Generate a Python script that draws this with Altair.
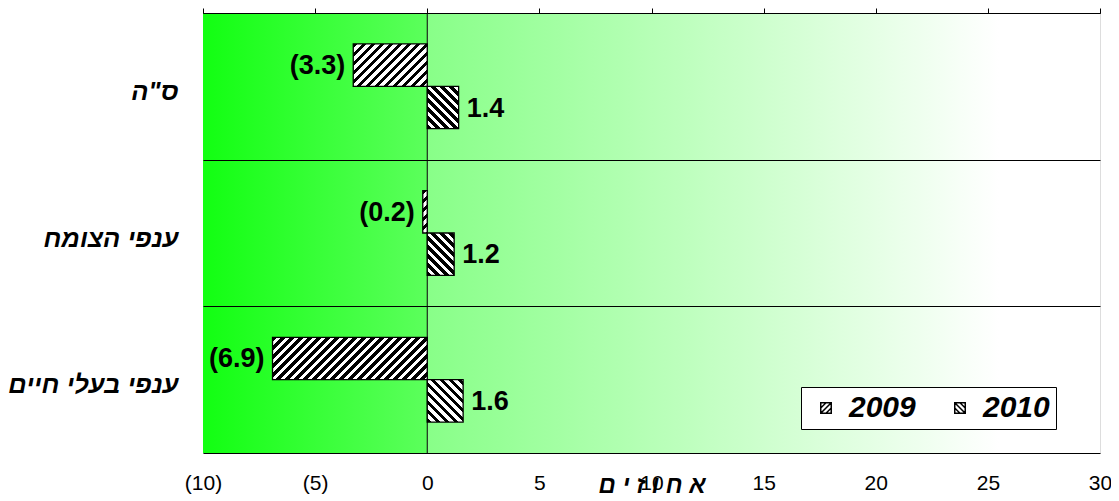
import altair as alt
import pandas as pd

# ---- data ----
categories = ['ס"ה', 'ענפי הצומח', 'ענפי בעלי חיים']
years = ["2009", "2010"]
values_2009 = [-3.3, -0.2, -6.9]
values_2010 = [1.4, 1.2, 1.6]
x_ticks = [-10, -5, 0, 5, 10, 15, 20, 25, 30]
bg_from = [-10, 0]
bg_to = [0, 30]
axis_title = "א ח ו ז י ם"

# ---- layout ----
W, H = 897, 440
XMIN, XMAX = -10, 30
PAD_OUTER = 0.73
FONT = "Liberation Sans, Arial"

rows = []
for i, c in enumerate(categories):
    rows.append({"cat": c, "year": "2009", "v": values_2009[i], "id": f"{i}-2009"})
    rows.append({"cat": c, "year": "2010", "v": values_2010[i], "id": f"{i}-2010"})
df = pd.DataFrame(rows)
df["label"] = [f"({abs(v):.1f})" if v < 0 else f"{v:.1f}" for v in df["v"]]

bg = pd.DataFrame({"start": bg_from, "end": bg_to, "part": ["neg", "pos"]})
zero = pd.DataFrame({"x": [0]})

ppu = W / (XMAX - XMIN)
bar_h = (H / len(categories)) / (len(years) + 2 * PAD_OUTER)

xscale = alt.Scale(domain=[XMIN, XMAX], nice=False)
yscale = alt.Scale(domain=categories, paddingInner=0, paddingOuter=0)
yoff_scale = alt.Scale(domain=years, paddingInner=0, paddingOuter=PAD_OUTER)


def stripes(w, h, forward, period=9.0, black=0.5):
    n = (w + h) / period
    stops = []
    j = 0
    while j / n < 1:
        a = j / n
        b = min((j + black) / n, 1)
        c = min((j + 1) / n, 1)
        stops += [
            alt.GradientStop(offset=a, color="black"),
            alt.GradientStop(offset=b, color="black"),
            alt.GradientStop(offset=b, color="white"),
            alt.GradientStop(offset=c, color="white"),
        ]
        j += 1
    s = (w + h) / (w * w + h * h)
    if forward:  # "/" stripes
        return alt.LinearGradient(gradient="linear", stops=stops,
                                  x1=0, y1=0, x2=w * s, y2=h * s)
    return alt.LinearGradient(gradient="linear", stops=stops,
                              x1=0, y1=1, x2=w * s, y2=1 - h * s)


grad_neg = alt.LinearGradient(gradient="linear", x1=0, x2=1, y1=0, y2=0, stops=[
    alt.GradientStop(offset=0, color="#12ff12"),
    alt.GradientStop(offset=1, color="#5cff5c")])
grad_pos = alt.LinearGradient(gradient="linear", x1=0, x2=1, y1=0, y2=0, stops=[
    alt.GradientStop(offset=0, color="#88ff88"),
    alt.GradientStop(offset=0.85, color="#ffffff"),
    alt.GradientStop(offset=1, color="#ffffff")])

top_axis = alt.Axis(orient="top", values=x_ticks, labels=False, ticks=True, tickSize=5,
                    tickColor="black", domain=True, domainColor="black", grid=False,
                    title=None, zindex=1)
bottom_axis = alt.Axis(orient="bottom", values=x_ticks, ticks=False, domain=False, grid=False,
                       labelExpr="datum.value < 0 ? '(' + (-datum.value) + ')' : datum.label",
                       labelFont=FONT, labelFontSize=21, labelColor="black", labelFlush=False,
                       labelBaseline="middle", labelPadding=30.5,
                       title=axis_title, titleFont=FONT, titleFontSize=24,
                       titleFontWeight="bold", titleFontStyle="italic", titleColor="black",
                       titleBaseline="alphabetic", titleY=39, zindex=1)
y_axis = alt.Axis(orient="left", ticks=False, domain=False, grid=True, tickBand="extent",
                  gridColor="black", gridWidth=1, gridOpacity=1,
                  labelFont=FONT, labelFontSize=25.5, labelFontWeight="bold",
                  labelFontStyle="italic", labelColor="black", labelPadding=25,
                  labelLimit=400, labelOffset=5, title=None, zindex=1)

layers = []
for part, g in (("neg", grad_neg), ("pos", grad_pos)):
    layers.append(
        alt.Chart(bg).transform_filter(alt.datum.part == part)
        .mark_rect(fill=g)
        .encode(x=alt.X("start:Q", scale=xscale, axis=top_axis if part == "neg" else None),
                x2="end:Q")
    )

layers.append(
    alt.Chart(zero).mark_rule(color="black", strokeWidth=1)
    .encode(x=alt.X("x:Q", scale=xscale, axis=bottom_axis))
)

for _, r in df.iterrows():
    w = abs(r["v"]) * ppu
    g = stripes(w, bar_h, forward=(r["year"] == "2009"))
    layers.append(
        alt.Chart(df).transform_filter(alt.datum.id == r["id"])
        .mark_bar(fill=g, stroke="black", strokeWidth=1.3)
        .encode(
            x=alt.X("v:Q", scale=xscale, axis=None),
            y=alt.Y("cat:N", sort=categories, scale=yscale, axis=y_axis),
            yOffset=alt.YOffset("year:N", sort=years, scale=yoff_scale),
        )
    )

text_common = dict(font=FONT, fontSize=27, fontWeight="bold", color="black", baseline="middle", dy=1)
layers.append(
    alt.Chart(df).transform_filter(alt.datum.v < 0)
    .mark_text(align="right", dx=-8, **text_common)
    .encode(x=alt.X("v:Q", scale=xscale, axis=None),
            y=alt.Y("cat:N", sort=categories, scale=yscale, axis=y_axis),
            yOffset=alt.YOffset("year:N", sort=years, scale=yoff_scale),
            text="label:N")
)
layers.append(
    alt.Chart(df).transform_filter(alt.datum.v >= 0)
    .mark_text(align="left", dx=8, **text_common)
    .encode(x=alt.X("v:Q", scale=xscale, axis=None),
            y=alt.Y("cat:N", sort=categories, scale=yscale, axis=y_axis),
            yOffset=alt.YOffset("year:N", sort=years, scale=yoff_scale),
            text="label:N")
)

sym_2009 = "M-1,-1H1V1H-1Z M-1,0L0,-1 M-1,1L1,-1 M0,1L1,0"
sym_2010 = "M-1,-1H1V1H-1Z M0,-1L1,0 M-1,-1L1,1 M-1,0L0,1"
layers.append(
    alt.Chart(df).transform_filter("false")
    .mark_point(filled=False, opacity=1, color="black", strokeWidth=1.5)
    .encode(
        x=alt.X("v:Q", scale=xscale, axis=None),
        y=alt.Y("cat:N", sort=categories, scale=yscale, axis=y_axis),
        shape=alt.Shape("year:N", scale=alt.Scale(domain=years, range=[sym_2009, sym_2010]),
                        legend=alt.Legend(orient="none", legendX=598, legendY=374,
                                          direction="horizontal", title=None,
                                          fillColor="white", strokeColor="black",
                                          padding=6, labelFont=FONT, labelFontSize=30,
                                          labelFontWeight="bold", labelFontStyle="italic",
                                          labelColor="black", symbolSize=110,
                                          symbolStrokeWidth=1.5, symbolStrokeColor="black",
                                          symbolFillColor="white", symbolOpacity=1,
                                          symbolOffset=4,
                                          columnPadding=25, labelOffset=8)),
    )
)

chart = alt.layer(*layers).properties(
    width=W, height=H,
    autosize=alt.AutoSizeParams(type="none"),
    padding={"left": 195, "top": 5, "right": 11, "bottom": 44},
).configure_view(stroke="#808080", strokeWidth=1.5).configure(font=FONT)

chart.save("out.html", embed_options={"renderer": "svg", "actions": False})
